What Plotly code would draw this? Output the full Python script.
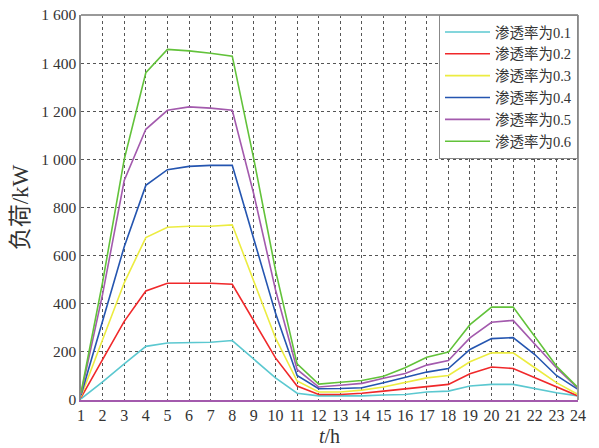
import plotly.graph_objects as go

hours = list(range(1, 25))
names = ["渗透率为0.1", "渗透率为0.2", "渗透率为0.3", "渗透率为0.4", "渗透率为0.5", "渗透率为0.6"]
colors = ["#5bc8d0", "#f0282a", "#ecec40", "#2455b0", "#a35aad", "#62c23a"]

p01 = [5, 75, 150, 223, 237, 237, 240, 247, 170, 92, 28, 17, 17, 17, 21, 23, 33, 37, 58, 65, 65, 47, 30, 17]
p02 = [10, 168, 327, 453, 485, 485, 485, 481, 331, 175, 58, 23, 23, 28, 37, 47, 57, 65, 109, 137, 131, 92, 54, 17]
p03 = [15, 250, 487, 675, 718, 722, 722, 728, 494, 258, 79, 33, 33, 41, 54, 72, 92, 102, 159, 196, 196, 134, 72, 23]
p04 = [20, 330, 637, 892, 957, 971, 975, 975, 668, 361, 102, 47, 48, 51, 72, 94, 116, 131, 210, 255, 259, 189, 102, 44]
p05 = [25, 440, 912, 1125, 1204, 1218, 1213, 1204, 854, 458, 127, 54, 61, 69, 90, 110, 145, 164, 258, 323, 331, 233, 134, 48]
p06 = [30, 490, 1000, 1360, 1457, 1451, 1441, 1429, 1000, 540, 150, 66, 74, 81, 99, 134, 178, 199, 313, 386, 386, 265, 141, 51]
series = [p01, p02, p03, p04, p05, p06]

ytickvals = [0, 200, 400, 600, 800, 1000, 1200, 1400, 1600]
yticktext = ["0", "200", "400", "600", "800", "1 000", "1 200", "1 400", "1 600"]

FONT = "Liberation Serif, Times New Roman, Noto Sans CJK SC, serif"

fig = go.Figure()
for n, c, s in zip(names, colors, series):
    fig.add_trace(go.Scatter(x=hours, y=s, mode="lines", name=n,
                             line=dict(color=c, width=1.6)))

fig.update_layout(
    width=599, height=448,
    margin=dict(l=81, r=21, t=15, b=48),
    paper_bgcolor="white", plot_bgcolor="white",
    font=dict(family=FONT, size=16, color="#333"),
    showlegend=True,
    legend=dict(x=1, y=1, xanchor="right", yanchor="top",
                bgcolor="white", bordercolor="#888", borderwidth=1,
                font=dict(size=14.5, family=FONT, color="#333"),
                itemwidth=45, tracegroupgap=0, entrywidth=110),
)
fig.update_xaxes(range=[1, 24], tickvals=hours, showgrid=True,
                 gridcolor="#555", griddash="dot", gridwidth=1,
                 showline=True, linecolor="#a35aad", linewidth=2, mirror=False,
                 ticks="", zeroline=False, automargin=False,
                 title=dict(text="<i>t</i>/h", font=dict(size=20, family=FONT), standoff=6),
                 tickfont=dict(size=16, family=FONT))
fig.update_yaxes(range=[0, 1600], tickvals=ytickvals, ticktext=yticktext, showgrid=True,
                 gridcolor="#555", griddash="dot", gridwidth=1,
                 showline=True, linecolor="#888", linewidth=1.5, mirror=False,
                 ticks="", zeroline=False, automargin=False,
                 title=dict(text="负荷/kW", font=dict(size=23, family=FONT), standoff=6),
                 tickfont=dict(size=15.5, family=FONT))
# top and right frame
fig.add_shape(type="line", xref="paper", yref="paper", x0=0, x1=1, y0=1, y1=1,
              line=dict(color="#999", width=2))
fig.add_shape(type="line", xref="paper", yref="paper", x0=1, x1=1, y0=0, y1=1,
              line=dict(color="#999", width=2))

fig.write_html("out.html")
